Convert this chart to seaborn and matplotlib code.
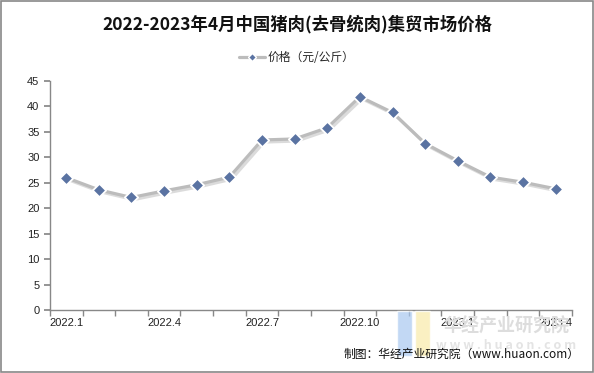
import matplotlib
matplotlib.use("Agg")
import matplotlib.pyplot as plt
import matplotlib.patheffects as pe
import matplotlib.patches as mpatches
import pandas as pd
import seaborn as sns

months = ["2022.1", "2022.2", "2022.3", "2022.4", "2022.5", "2022.6", "2022.7", "2022.8",
          "2022.9", "2022.10", "2022.11", "2022.12", "2023.1", "2023.2", "2023.3", "2023.4"]
price = [26.0, 23.6, 22.1, 23.4, 24.6, 26.1, 33.4, 33.6,
         35.8, 41.9, 38.8, 32.7, 29.3, 26.1, 25.1, 23.8]
label_every = 3

sns.set_theme(style="white")
plt.rcParams["font.family"] = ["Noto Sans CJK SC", "DejaVu Sans"]

df = pd.DataFrame({"idx": range(len(months)), "price": price})

fig = plt.figure(figsize=(5.94, 3.73), dpi=100)
ax = fig.add_axes([0.084, 0.169, 0.879, 0.614])

shadow = [pe.SimpleLineShadow(offset=(1.5, -1.5), shadow_color="#c4c4c4", alpha=0.6), pe.Normal()]
sns.lineplot(data=df, x="idx", y="price", ax=ax, color="#bcbcbc", linewidth=2.3,
             path_effects=shadow, zorder=2, legend=False)
ax.scatter(df["idx"], df["price"], marker="D", s=46, color="#5a73a2",
           edgecolor="white", linewidth=1.3, zorder=3)

ax.set_xlim(-0.5, len(months) - 0.5)
ax.set_ylim(0, 45)
ax.set_yticks(range(0, 46, 5))
ax.set_xticks(range(0, len(months), label_every))
ax.set_xticklabels(months[::label_every])
ax.set_xticks([i - 0.5 for i in range(len(months) + 1)], minor=True)
ax.tick_params(axis="x", which="major", length=0, labelsize=8, colors="#222222", pad=6)
ax.tick_params(axis="x", which="minor", length=4, color="#888888", direction="out", bottom=True)
ax.tick_params(axis="y", length=4, color="#888888", direction="out", left=True,
               labelsize=8, colors="#222222")
for lab in ax.get_xticklabels() + ax.get_yticklabels():
    lab.set_family(["Liberation Sans", "DejaVu Sans"])
ax.set_xlabel("")
ax.set_ylabel("")
for side in ["top", "right"]:
    ax.spines[side].set_visible(False)
for side in ["left", "bottom"]:
    ax.spines[side].set_color("#888888")
    ax.spines[side].set_linewidth(1.0)

# legend
handle = plt.Line2D([], [], color="#bcbcbc", linewidth=2.3, marker="D", markersize=4,
                    markerfacecolor="#5a73a2", markeredgecolor="white")
fig.legend([handle], ["价格（元/公斤）"], loc="center", bbox_to_anchor=(0.5, 0.845),
           frameon=False, fontsize=8.5, handlelength=2.2, handletextpad=0.2)

fig.text(0.5, 0.935, "2022-2023年4月中国猪肉(去骨统肉)集贸市场价格", ha="center", va="center",
         fontsize=12.5, fontweight="bold", color="#111111")

# watermark
fig.patches.append(mpatches.Rectangle((0.668, 0.045), 0.026, 0.12, transform=fig.transFigure,
                                      facecolor="#a8c8f0", alpha=0.7, zorder=0))
fig.patches.append(mpatches.Rectangle((0.698, 0.045), 0.026, 0.12, transform=fig.transFigure,
                                      facecolor="#f8eaa8", alpha=0.7, zorder=0))
fig.text(0.852, 0.125, "华经产业研究院", ha="center", va="center", fontsize=13,
         fontweight="bold", color="#dddddd", zorder=0)
fig.text(0.852, 0.075, "w w w . h u a o n . c o m", ha="center", va="center", fontsize=9,
         fontweight="bold", color="#e4e4e4", zorder=0)

fig.text(0.975, 0.05, "制图：华经产业研究院（www.huaon.com）", ha="right", va="center",
         fontsize=8.5, color="#111111")

fig.patches.append(mpatches.Rectangle((0.002, 0.003), 0.996, 0.994, transform=fig.transFigure,
                                      fill=False, edgecolor="#888888", linewidth=1.2))

fig.savefig("out.png", dpi=100)
